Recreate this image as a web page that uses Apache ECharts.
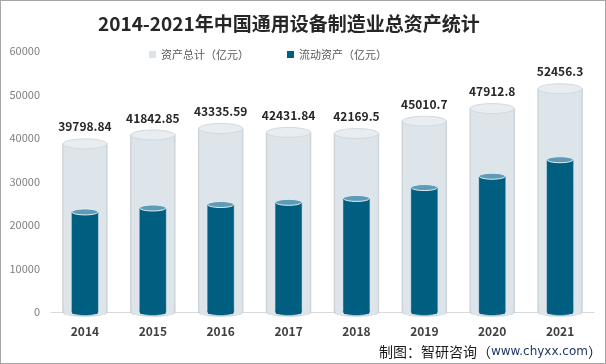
<!DOCTYPE html>
<html>
<head>
<meta charset="utf-8">
<script src="https://cdn.jsdelivr.net/npm/echarts@6/dist/echarts.min.js"></script>
<style>
html,body{margin:0;padding:0;background:#fff;}
#c{width:604px;height:362px;border:1px solid #a6a6a6;}
</style>
</head>
<body>
<div id="c"></div>
<script>
var years = ['2014','2015','2016','2017','2018','2019','2020','2021'];
var totalAssets = [39798.84, 41842.85, 43335.59, 42431.84, 42169.5, 45010.7, 47912.8, 52456.3];
var currentAssets = [23700, 24600, 25400, 25900, 26800, 29300, 31900, 35700];
var yTicks = [0, 10000, 20000, 30000, 40000, 50000, 60000];
var seriesNames = ['资产总计（亿元）', '流动资产（亿元）'];

var chart = echarts.init(document.getElementById('c'));
var FONT = '"Noto Sans CJK SC", "Noto Sans", sans-serif';

function cylinder(opts) {
  return function (params, api) {
    var idx = api.value(0);
    var val = api.value(1);
    var top = api.coord([idx, val]);
    var base = api.coord([idx, 0]);
    var w = opts.width, rx = w / 2;
    var cx = top[0];
    var cyTop = top[1] + opts.ryTop;
    var children = [
      {type: 'ellipse', shape: {cx: cx, cy: base[1], rx: rx, ry: opts.ryBot},
        style: {fill: opts.body, stroke: opts.edge, lineWidth: opts.edgeW}},
      {type: 'rect', shape: {x: cx - rx, y: cyTop, width: w, height: base[1] - cyTop},
        style: {fill: opts.body, stroke: opts.edge, lineWidth: opts.edgeW}},
      {type: 'rect', shape: {x: cx - rx + opts.edgeW, y: cyTop, width: w - 2 * opts.edgeW, height: base[1] - cyTop + opts.ryBot - 1},
        style: {fill: opts.body}},
      {type: 'ellipse', shape: {cx: cx, cy: cyTop, rx: rx, ry: opts.ryTop},
        style: {fill: opts.cap, stroke: opts.capEdge, lineWidth: 1}}
    ];
    if (opts.label) {
      children.push({type: 'text', style: {
        text: String(val), x: cx, y: top[1] - 6, align: 'center', verticalAlign: 'bottom',
        fill: '#262626', font: 'bold 12px ' + FONT }});
    }
    return {type: 'group', children: children};
  };
}

chart.setOption({
  animation: false,
  title: {
    text: '2014-2021年中国通用设备制造业总资产统计',
    left: 92, top: 8,
    textStyle: {fontSize: 19, fontWeight: 'bold', color: '#262626', fontFamily: FONT}
  },
  legend: {
    top: 43, left: 143, itemGap: 38, itemWidth: 7, itemHeight: 7, icon: 'rect',
    textStyle: {fontSize: 11, color: '#595959', fontFamily: FONT},
    data: seriesNames
  },
  grid: {left: 50, right: 11, top: 50, bottom: 51},
  xAxis: {
    type: 'category', data: years,
    axisLine: {lineStyle: {color: '#d9d9d9'}},
    axisTick: {show: false},
    axisLabel: {color: '#404040', fontWeight: 'bold', fontSize: 12, margin: 13, fontFamily: FONT}
  },
  yAxis: {
    type: 'value', min: yTicks[0], max: yTicks[yTicks.length - 1], interval: yTicks[1] - yTicks[0],
    axisLine: {show: false}, axisTick: {show: false}, splitLine: {show: false},
    axisLabel: {color: '#7f7f7f', fontSize: 11, margin: 11, fontFamily: FONT,
      formatter: function (v) { return String(v); }}
  },
  series: [
    {
      name: seriesNames[0], type: 'custom',
      itemStyle: {color: '#dce4ea'},
      data: totalAssets.map(function (v, i) { return [i, v]; }),
      renderItem: cylinder({width: 44, ryTop: 5, ryBot: 4, body: '#dde5eb', edge: '#cfd4d8', edgeW: 1.5,
        cap: '#e7edf1', capEdge: '#d3d8dc', label: true}),
      z: 2
    },
    {
      name: seriesNames[1], type: 'custom',
      itemStyle: {color: '#005f80'},
      data: currentAssets.map(function (v, i) { return [i, v]; }),
      renderItem: cylinder({width: 26, ryTop: 3, ryBot: 3, body: '#005f80', edge: '#005f80', edgeW: 0.5,
        cap: '#5c9cb6', capEdge: '#e6eef2', label: false}),
      z: 3
    }
  ],
  graphic: [{
    type: 'text', right: 3, bottom: 4,
    style: {
      text: '{a|制图：智研咨询（}{b|www.chyxx.com}{a|）}',
      rich: {
        a: {fontSize: 14, fill: '#1a1a1a', fontFamily: FONT},
        b: {fontSize: 12, fill: '#1f3864', fontFamily: '"DejaVu Sans", sans-serif'}
      }
    }
  }]
});
</script>
</body>
</html>
